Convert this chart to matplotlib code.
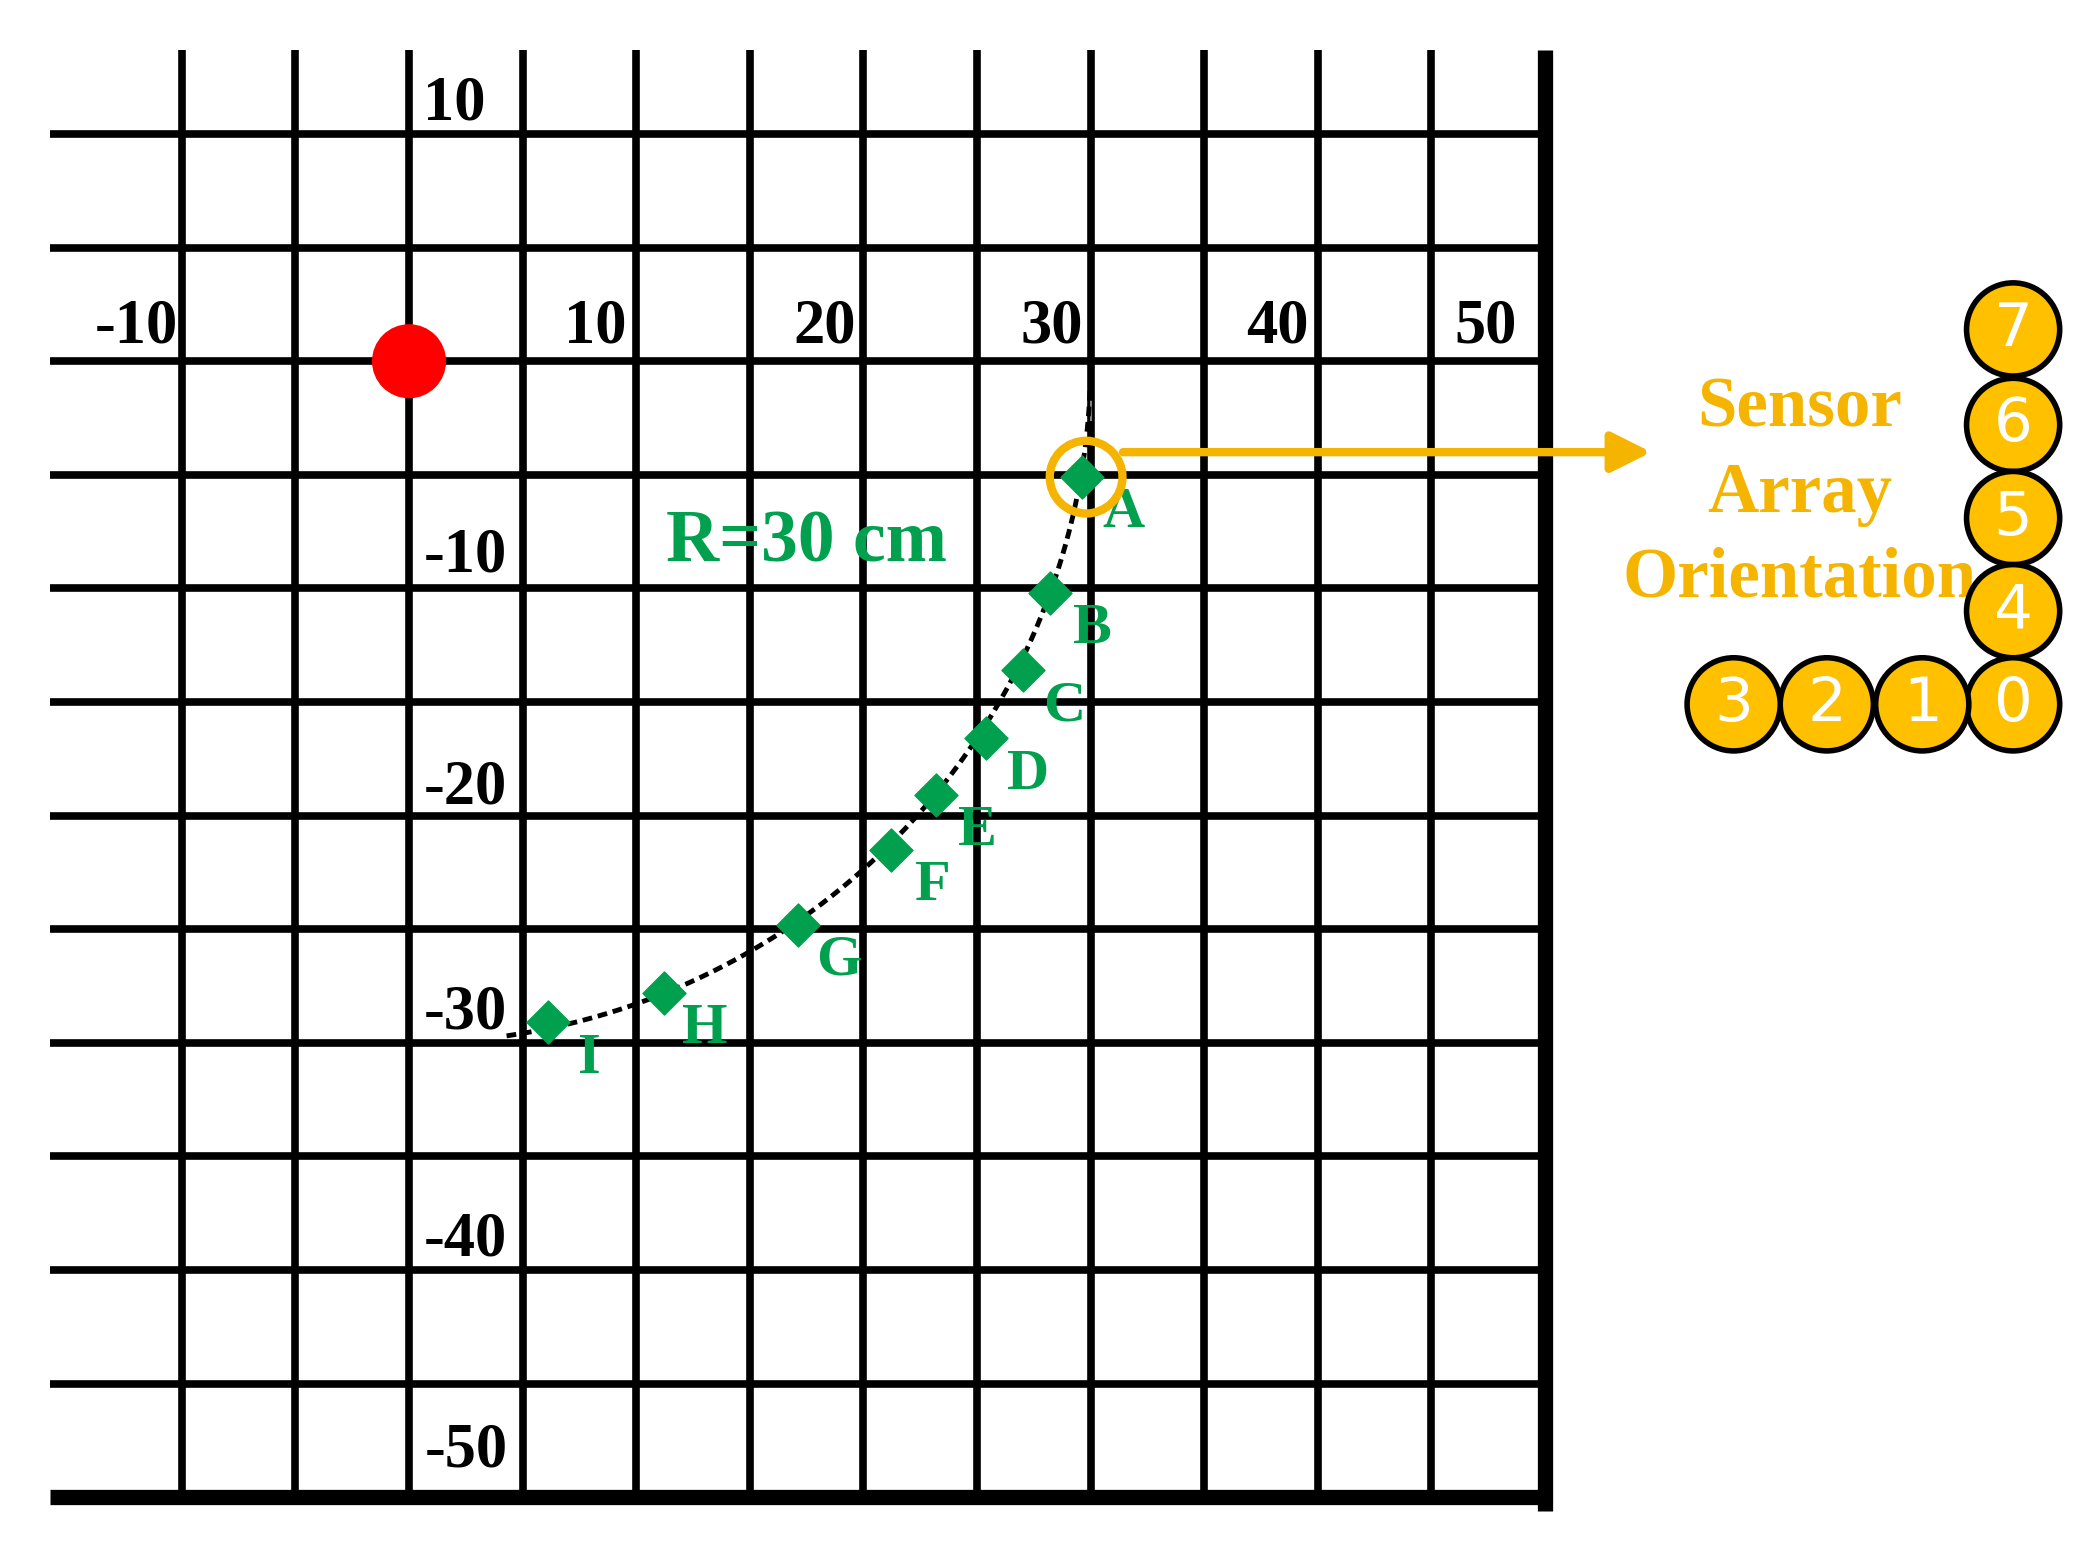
import numpy as np
import matplotlib.pyplot as plt
from matplotlib.patches import Circle

# grid (cm)
grid_x = [-10, -5, 0, 5, 10, 15, 20, 25, 30, 35, 40, 45]
grid_y = [10, 5, 0, -5, -10, -15, -20, -25, -30, -35, -40, -45]
x_labels = [(-12, 1.5, "-10"), (8.2, 1.5, "10"), (18.3, 1.5, "20"), (28.3, 1.5, "30"),
            (38.2, 1.5, "40"), (47.4, 1.5, "50")]
y_labels = [(2.0, 11.3, "10"), (2.5, -8.6, "-10"), (2.5, -18.8, "-20"), (2.5, -28.7, "-30"),
            (2.5, -38.7, "-40"), (2.5, -48.0, "-50")]

# measured positions
pt_names = ["A", "B", "C", "D", "E", "F", "G", "H", "I"]
pt_x = [29.6, 28.2, 27.0, 25.4, 23.2, 21.2, 17.1, 11.2, 6.1]
pt_y = [-5.1, -10.2, -13.6, -16.6, -19.1, -21.5, -24.8, -27.8, -29.1]

radius = 30
arc_start, arc_end = -2.5, -82  # degrees
sensor_ids = ["7", "6", "5", "4", "0", "1", "2", "3"]
sensor_x = [70.6, 70.6, 70.6, 70.6, 70.6, 66.6, 62.4, 58.3]
sensor_y = [1.4, -2.8, -6.9, -11.0, -15.1, -15.1, -15.1, -15.1]

green = "#00A04E"
orange = "#F5B400"
serif = "Liberation Serif"

fig = plt.figure(figsize=(20.95, 15.45), dpi=100)
ax = fig.add_axes([0, 0, 1, 1])
ax.set_xlim(-18.0, 74.2)
ax.set_ylim(-52.1, 15.9)
ax.set_aspect("equal")
ax.axis("off")

top, left = 13.7, -15.8
for gx in grid_x:
    ax.plot([gx, gx], [-50, top], color="black", lw=5.5, solid_capstyle="butt")
for gy in grid_y:
    ax.plot([left, 50], [gy, gy], color="black", lw=5.5, solid_capstyle="butt")
ax.plot([50, 50], [-50.6, top], color="black", lw=11, solid_capstyle="butt")
ax.plot([left, 50.3], [-50, -50], color="black", lw=11, solid_capstyle="butt")

for x, y, s in x_labels + y_labels:
    ax.text(x, y, s, fontsize=45, fontweight="bold", family=serif, ha="center", va="center")

ax.add_patch(Circle((0, 0), 1.6, color="red", zorder=3))

th = np.radians(np.linspace(arc_start, arc_end, 200))
ax.plot(radius * np.cos(th), radius * np.sin(th), color="black", ls=(0, (2, 1.2)), lw=3.5, zorder=3)
ax.plot([30, 30], [-2.6, -1.4], color="gray", lw=1.5)

ax.scatter(pt_x, pt_y, marker="D", s=480, color=green, zorder=4)
for n, x, y in zip(pt_names, pt_x, pt_y):
    ax.annotate(n, (x, y), xytext=(30, -26), textcoords="offset points", color=green,
                fontsize=42, fontweight="bold", family=serif, ha="center", va="center")
ax.text(17.5, -8.0, "R=30 cm", color=green, fontsize=53, fontweight="bold", family=serif,
        ha="center", va="center")

ax.add_patch(Circle((29.8, -5.1), 1.6, fill=False, ec=orange, lw=6, zorder=5))
ax.annotate("", xy=(54.8, -4.0), xytext=(31.3, -4.0),
            arrowprops=dict(arrowstyle="-|>,head_length=2.4,head_width=1.2", color=orange, lw=6))
for i, s in enumerate(["Sensor", "Array", "Orientation"]):
    ax.text(61.2, -2.1 - 3.75 * i, s, color=orange, fontsize=51, fontweight="bold",
            family=serif, ha="center", va="center")

for s, x, y in zip(sensor_ids, sensor_x, sensor_y):
    ax.add_patch(Circle((x, y), 2.05, fc="#FFC000", ec="black", lw=4, zorder=5))
    ax.text(x, y, s, color="white", fontsize=44, family="DejaVu Sans", ha="center",
            va="center", zorder=6)

fig.savefig("out.png", dpi=100)
